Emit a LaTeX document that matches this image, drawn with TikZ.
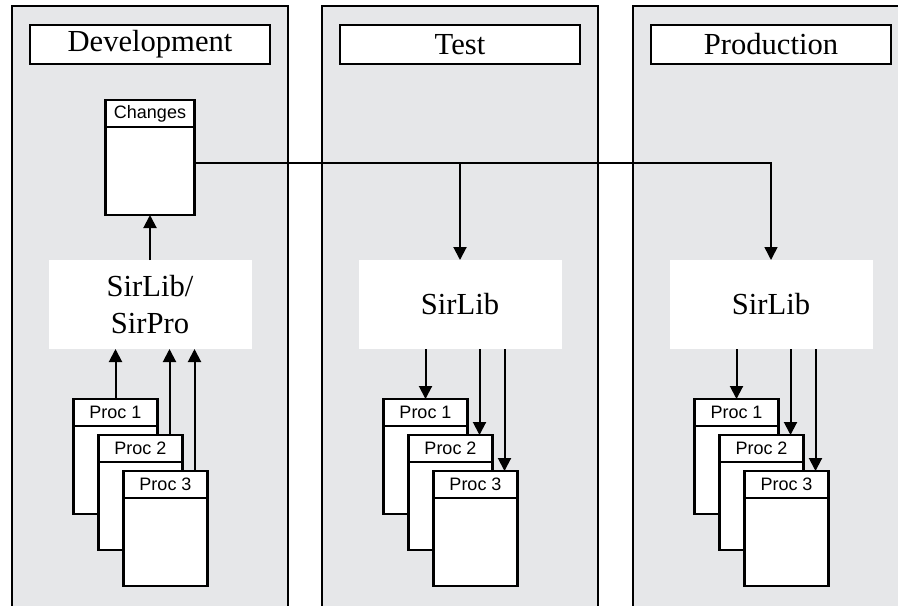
\documentclass[tikz,border=0pt]{standalone}
\usepackage{fontspec}
\setmainfont{Liberation Serif}
\setsansfont{Liberation Sans}
\usetikzlibrary{positioning,arrows.meta}
\definecolor{panelgray}{HTML}{E6E7E9}
\tikzset{
  stage/.style = {draw=black, fill=panelgray, line width=1.3pt, anchor=north,
    minimum width=138pt, minimum height=310pt, inner sep=0pt, outer sep=0pt},
  stagetitle/.style = {draw=black, fill=white, line width=1.4pt, inner sep=0pt,
    outer sep=0pt, minimum width=120pt, minimum height=19.5pt,
    font=\fontsize{15.3}{18}\selectfont},% titre de la colonne
  libbox/.style = {fill=white, align=center, inner sep=0pt, outer sep=0pt,
    minimum width=101.5pt, minimum height=44.5pt,
    font=\fontsize{15.3}{18.5}\selectfont},
  boxhead/.style = {draw=black, fill=white, line width=1.3pt, inner sep=0pt,
    outer sep=0pt, minimum width=42pt, minimum height=13.5pt,
    font=\sffamily\fontsize{9}{10}\selectfont},% en-tete
  boxbody/.style = {draw=black, fill=white, line width=1.3pt, inner sep=0pt,
    outer sep=0pt, minimum width=42pt, minimum height=44pt},
  link/.style = {line width=1pt}
}
\begin{document}
\begin{tikzpicture}[x=0.5pt,y=-0.5pt,>={Triangle[length=6.5pt,width=6.5pt]}]
  \path[use as bounding box] (0,0) rectangle (898,605);
  \clip (0,0) rectangle (898,605);
  \node [stage] (dev) at (150,6) {};
  \node [stage] (test) at (460,6) {};
  \node [stage] (prod) at (771,6) {};
  \node [stagetitle, below=9.5pt of dev.north] (devttl) {Development};
  \node [stagetitle, below=9.5pt of test.north] (testttl) {Test};
  \node [stagetitle, below=9.5pt of prod.north] (prodttl) {Production};
  \node [boxhead, minimum width=44.5pt, below=18pt of devttl] (chg) {Changes};
  \node [boxbody, minimum width=44.5pt, below=0pt of chg] (chgb) {};
  \node [libbox, below=22.5pt of chgb] (devlib) {SirLib/\\SirPro};
  \node [libbox, below=98pt of testttl] (testlib) {SirLib};
  \node [libbox, below=98pt of prodttl] (prodlib) {SirLib};
  \draw [link,->] (devlib.north) -- (chgb.south);
  \coordinate (fork) at ([yshift=4pt]chgb.east);
  \draw [line width=0.8pt,->] (fork) -| (prodlib.north);
  \draw [link,->] (testlib.north |- fork) -- (testlib.north);
  \foreach \s/\tip in {dev/<-,test/->,prod/->}{
    \node [boxhead, anchor=north west] (\s p1) at ([shift={(25,50)}]\s lib.south west) {Proc 1};
    \node [boxbody, below=0pt of \s p1] (\s p1b) {};
    \node [boxhead, anchor=north west] (\s p2) at ([shift={(25,36)}]\s p1.north west) {Proc 2};
    \node [boxbody, below=0pt of \s p2] (\s p2b) {};
    \node [boxhead, anchor=north west] (\s p3) at ([shift={(25,36)}]\s p2.north west) {Proc 3};
    \node [boxbody, below=0pt of \s p3] (\s p3b) {};
    \draw [link,\tip] (\s lib.south -| \s p1.north) -- (\s p1.north);
    \draw [link,\tip] ([xshift=-6.5pt]\s lib.south -| \s p2.north east) -- ([xshift=-6.5pt]\s p2.north east);
    \draw [link,\tip] ([xshift=-6.5pt]\s lib.south -| \s p3.north east) -- ([xshift=-6.5pt]\s p3.north east);
  }
\end{tikzpicture}
\end{document}
